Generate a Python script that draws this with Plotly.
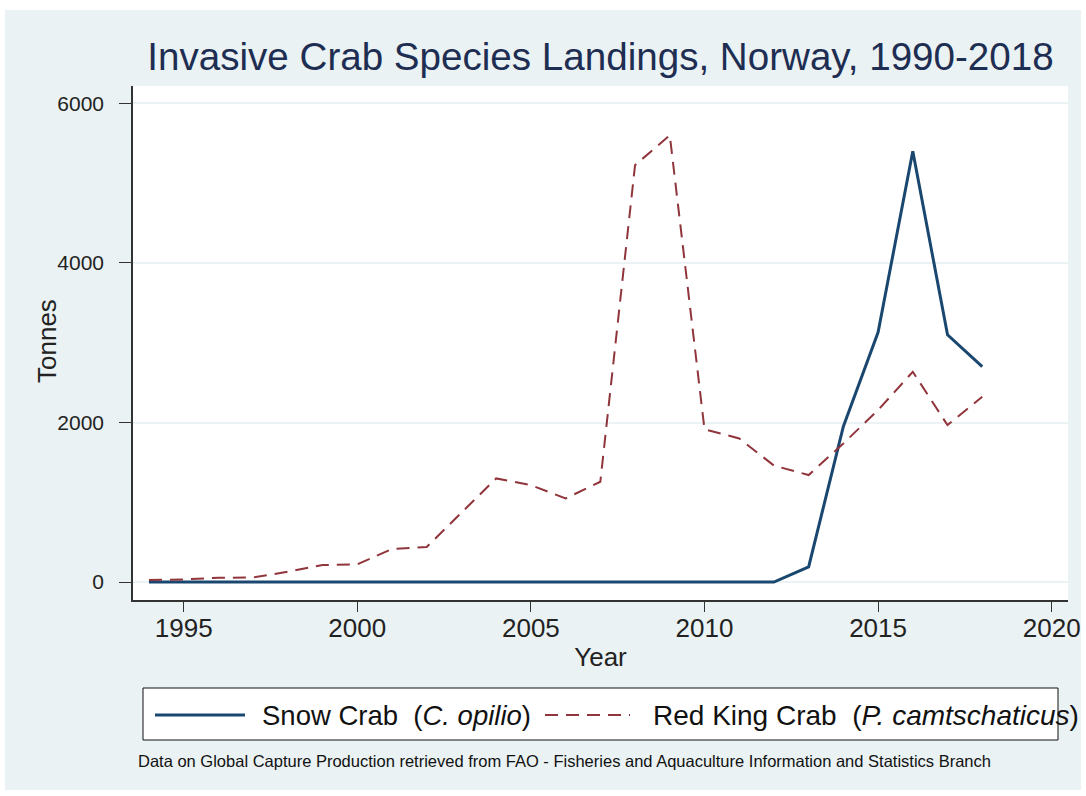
import plotly.graph_objects as go

years = list(range(1994, 2019))
snow_crab = [0, 0, 0, 0, 0, 0, 0, 0, 0, 0, 0, 0, 0, 0, 0, 0, 0, 0, 0,
             190, 1950, 3130, 5400, 3100, 2700]
red_king_crab = [25, 33, 54, 57, 130, 213, 222, 415, 440, 870, 1299, 1215, 1048,
                 1257, 5226, 5601, 1915, 1800, 1460, 1341, 1738, 2155, 2636, 1967, 2322]

title_text = "Invasive Crab Species Landings, Norway, 1990-2018"
x_title = "Year"
y_title = "Tonnes"
snow_label = "Snow Crab&nbsp; (<i>C. opilio</i>)"
red_label = "Red King Crab&nbsp; (<i>P. camtschaticus</i>)"
footer_text = ("Data on Global Capture Production retrieved from FAO - Fisheries and "
               "Aquaculture Information and Statistics Branch")
x_ticks = [1995, 2000, 2005, 2010, 2015, 2020]
y_ticks = [0, 2000, 4000, 6000]

SNOW = "#1A476F"
RED = "#90353B"
BG = "#EAF2F3"
FONT = "Liberation Sans, Arial, sans-serif"

W, H = 1086, 796
L, R, T, B = 133, 1068, 86, 600   # plot region in pixels


def px(xp):
    return (xp - L) / (R - L)


def py(yp):
    return (B - yp) / (B - T)


fig = go.Figure()
fig.add_trace(go.Scatter(x=years, y=snow_crab, mode="lines", name="Snow Crab",
                         line=dict(color=SNOW, width=3), showlegend=False))
fig.add_trace(go.Scatter(x=years, y=red_king_crab, mode="lines", name="Red King Crab",
                         line=dict(color=RED, width=2, dash="13px,8px"), showlegend=False))

shapes = [
    # graph region background (white page border around it)
    dict(type="rect", xref="paper", yref="paper", x0=px(5), x1=px(1081),
         y0=py(790), y1=py(10), line=dict(width=0), fillcolor=BG, layer="below"),
    # white plot region
    dict(type="rect", xref="paper", yref="paper", x0=0, x1=1, y0=0, y1=1,
         line=dict(width=0), fillcolor="white", layer="below"),
    # legend box
    dict(type="rect", xref="paper", yref="paper", x0=px(143), x1=px(1058),
         y0=py(740), y1=py(688), line=dict(color="#111111", width=1),
         fillcolor="white", layer="below"),
    dict(type="line", xref="paper", yref="paper", x0=px(155), x1=px(245),
         y0=py(715), y1=py(715), line=dict(color=SNOW, width=3)),
    dict(type="line", xref="paper", yref="paper", x0=px(545), x1=px(630),
         y0=py(715), y1=py(715), line=dict(color=RED, width=2, dash="13px,8px")),
]

annotations = [
    dict(text=snow_label, xref="paper", yref="paper", x=px(260), y=py(715),
         xanchor="left", yanchor="middle", showarrow=False,
         font=dict(size=27.5, color="#111111", family=FONT)),
    dict(text=red_label, xref="paper", yref="paper", x=px(651), y=py(715),
         xanchor="left", yanchor="middle", showarrow=False,
         font=dict(size=28, color="#111111", family=FONT)),
    dict(text=footer_text, xref="paper", yref="paper", x=px(136), y=py(761),
         xanchor="left", yanchor="middle", showarrow=False,
         font=dict(size=16.5, color="#111111", family=FONT)),
    dict(text=y_title, xref="paper", yref="paper", x=px(47), y=py(341),
         xanchor="center", yanchor="middle", textangle=-90, showarrow=False,
         font=dict(size=26, color="#222222", family=FONT)),
]

fig.update_layout(
    width=W, height=H,
    margin=dict(l=L, r=W - R, t=T, b=H - B, pad=0, autoexpand=False),
    paper_bgcolor="white",
    plot_bgcolor="white",
    title=dict(text=title_text, x=600.5 / W, y=1 - 56 / H, xref="container",
               xanchor="center", yanchor="middle",
               font=dict(size=38.6, color="#1E2D52", family=FONT)),
    font=dict(family=FONT, color="#222222", size=26),
    shapes=shapes,
    annotations=annotations,
    xaxis=dict(range=[1993.54, 2020.47], tickvals=x_ticks, ticks="outside", ticklen=10,
               tickcolor="#333333", showline=True, linecolor="#333333", linewidth=1.5,
               showgrid=False, zeroline=False, mirror=False, ticklabelstandoff=-6,
               ticklabeloverflow="allow", automargin=False,
               tickfont=dict(size=26, color="#222222"),
               title=dict(text=x_title, font=dict(size=26, color="#222222"), standoff=6)),
    yaxis=dict(range=[-225, 6218], tickvals=y_ticks, ticks="outside", ticklen=12,
               tickcolor="#333333", showline=True, linecolor="#333333", linewidth=1.5,
               showgrid=True, gridcolor=BG, gridwidth=1.5, zeroline=False,
               ticklabelstandoff=11, automargin=False,
               tickfont=dict(size=21, color="#222222")),
)

fig.write_html("out.html", config={"displayModeBar": False},
               post_script="document.body.style.margin='0';document.body.style.overflow='hidden';")
